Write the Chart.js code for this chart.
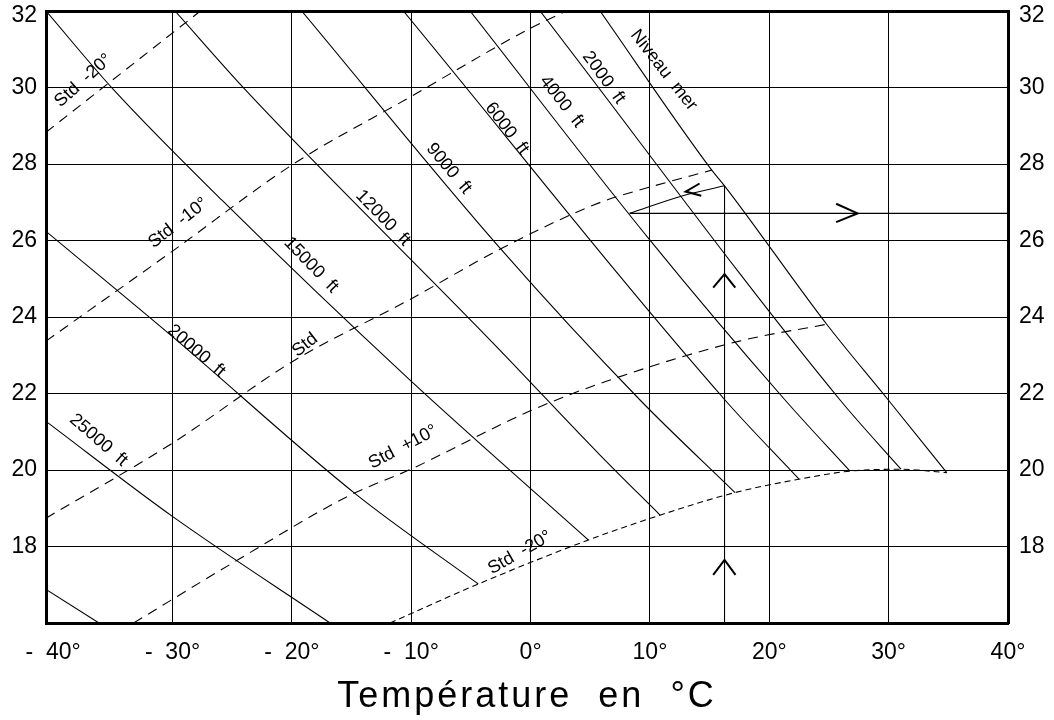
<!DOCTYPE html>
<html><head><meta charset="utf-8">
<script src="https://cdn.jsdelivr.net/npm/chart.js@4/dist/chart.umd.min.js"></script>
<style>html,body{margin:0;padding:0;background:#fff}#wrap{width:1054px;height:720px}</style>
</head><body><div id="wrap"><canvas id="c" width="1054" height="720"></canvas></div>
<script>
// ---- axes ----
const xTicks = [-40, -30, -20, -10, 0, 10, 20, 30, 40];
const xTickLabels = ['-  40°', '-  30°', '-  20°', '-  10°', '0°', '10°', '20°', '30°', '40°'];
const yTicks = [16, 18, 20, 22, 24, 26, 28, 30, 32];
const yTickLabels = ['', '18', '20', '22', '24', '26', '28', '30', ''];
const yTopLabel = '32';
const axisTitle = 'Température  en  °C';

// ---- pressure-altitude lines (°C, y-value) ----
const alt30000 = [[-40.6, 16.88], [-36.16, 16]];
const alt25000 = [[-40.6, 21.27], [-29.98, 18.78], [-16.8, 16]];
const alt20000 = [[-40.6, 26.24], [-29.98, 23.48], [-14.57, 19.35], [-4.38, 17.02]];
const alt15000 = [[-40.6, 32], [-34.96, 29.95], [-25.88, 27.06], [-10.1, 22.35], [4.84, 18.17]];
const alt12000 = [[-29.79, 32], [-23.93, 29.95], [-2.84, 23.22], [5.82, 20.39], [10.85, 18.82]];
const alt9000 = [[-19.18, 32], [-2.56, 25.8], [9.17, 21.83], [17.13, 19.41]];
const alt6000 = [[-10.66, 32], [16.29, 21.83], [22.49, 19.76]];
const alt4000 = [[-5.07, 32], [9.95, 26.03], [21.32, 21.83], [26.76, 19.97]];
const alt2000 = [[0.79, 32], [25.93, 21.83], [31.04, 20.02]];
const altSea = [[5.82, 32], [15.18, 27.84], [16.25, 27.43], [24.81, 23.81], [29.97, 21.83], [34.87, 19.93]];

// ---- standard-temperature curves ----
const stdM20 = [[-40.6, 28.83], [-27.66, 32]];
const stdM10 = [[-40.6, 23.37], [-29.97, 25.73], [-19.87, 28.0], [-10.1, 29.75], [-0.07, 31.54], [3.0, 32]];
const stdStd = [[-40.6, 18.74], [-29.97, 20.71], [-19.87, 22.85], [-10.1, 24.46], [-2.58, 25.77], [5.79, 26.99], [9.92, 27.39], [15.18, 27.84]];
const stdP10 = [[-33.26, 16], [-24.75, 17.61], [-15.13, 19.34], [-10.11, 20.01], [-0.07, 21.54], [6.35, 22.32], [17.5, 23.37], [24.81, 23.81]];
const stdP20 = [[-11.78, 16], [-4.38, 17.02], [4.84, 18.17], [10.85, 18.82], [17.13, 19.41], [22.49, 19.76], [26.76, 19.97], [31.04, 20.02], [34.87, 19.93]];

// ---- example path with arrows ----
const pathUp = [[16.25, 16], [16.25, 27.43]];
const pathCurve = [[8.3, 26.71], [12.76, 27.17], [16.25, 27.43]];
const pathRight = [[8.3, 26.71], [40, 26.71]];
const arrowRight = [[25.6, 26.96], [27.4, 26.71], [25.6, 26.48]];
const arrowLeft = [[14.16, 27.49], [12.99, 27.28], [14.3, 27.17]];
const arrowUp1 = [[15.3, 24.77], [16.25, 25.12], [17.15, 24.77]];
const arrowUp2 = [[15.3, 17.26], [16.25, 17.65], [17.17, 17.26]];

// ---- curve labels: text, x, y, angle(deg) ----
const curveLabels = [
  ['Std  -20°', -37.47, 30.18, -42],
  ['Std  -10°', -29.52, 26.46, -38],
  ['Std', -18.9, 23.27, -38],
  ['Std  +10°', -10.69, 20.6, -28],
  ['Std  -20°', -0.9, 17.84, -30],
  ['25000  ft', -36.2, 20.78, 41],
  ['20000  ft', -28.0, 23.11, 41],
  ['15000  ft', -18.39, 25.36, 46],
  ['12000  ft', -12.37, 26.59, 46],
  ['9000  ft', -6.85, 27.88, 50],
  ['6000  ft', -1.99, 28.93, 53],
  ['4000  ft', 2.61, 29.63, 52],
  ['2000  ft', 6.13, 30.26, 54],
  ['Niveau  mer', 11.15, 30.45, 52]
];

const FONT = '"Liberation Sans", Arial, sans-serif';
const pts = a => a.map(([x, y]) => ({x, y}));
function ds(arr, dash, smooth) {
  return {data: pts(arr), borderColor: '#000', borderWidth: 1.1, pointRadius: 0, showLine: true,
    fill: false, borderDash: dash || [], tension: 0, cubicInterpolationMode: smooth ? 'monotone' : 'default'};
}
const datasets = [
  ds(alt30000), ds(alt25000, null, true), ds(alt20000, null, true), ds(alt15000, null, true),
  ds(alt12000, null, true), ds(alt9000, null, true), ds(alt6000, null, true), ds(alt4000, null, true),
  ds(alt2000, null, true), ds(altSea, null, true),
  ds(stdM20, [10, 7]), ds(stdM10, [10, 7], true), ds(stdStd, [10, 7], true), ds(stdP10, [10, 7], true),
  ds(stdP20, [6, 4], true),
  ds(pathUp), ds(pathCurve, null, true), ds(pathRight),
  Object.assign(ds(arrowRight), {borderWidth: 2}), Object.assign(ds(arrowLeft), {borderWidth: 2}),
  Object.assign(ds(arrowUp1), {borderWidth: 2}), Object.assign(ds(arrowUp2), {borderWidth: 2})
];

const labelPlugin = {
  id: 'curveLabels',
  afterDatasetsDraw(chart) {
    const {ctx, scales: {x, y}} = chart;
    ctx.save();
    ctx.fillStyle = '#000';
    ctx.font = '18px ' + FONT;
    ctx.textAlign = 'center';
    ctx.textBaseline = 'middle';
    curveLabels.forEach(([t, lx, ly, a]) => {
      ctx.save();
      ctx.translate(x.getPixelForValue(lx), y.getPixelForValue(ly));
      ctx.rotate(a * Math.PI / 180);
      ctx.fillText(t, 0, 0);
      ctx.restore();
    });
    ctx.restore();
  },
  afterDraw(chart) {
    const {ctx, chartArea, scales: {y}} = chart;
    ctx.save();
    ctx.fillStyle = '#000';
    // top value label, nudged down to stay inside the canvas as in the source
    ctx.font = '23px ' + FONT;
    ctx.textBaseline = 'middle';
    const ty = y.getPixelForValue(32) + 5;
    ctx.textAlign = 'right';
    ctx.fillText(yTopLabel, chartArea.left - 9, ty);
    ctx.textAlign = 'left';
    ctx.fillText(yTopLabel, chartArea.right + 11, ty);
    // axis title
    ctx.font = '36px ' + FONT;
    ctx.letterSpacing = '3px';
    ctx.textAlign = 'center';
    ctx.fillText(axisTitle, (chartArea.left + chartArea.right) / 2, 697);
    ctx.restore();
  }
};

const gridColor = lim => ctx => (ctx.tick && (ctx.tick.value <= lim[0] || ctx.tick.value >= lim[1])) ? 'rgba(0,0,0,0)' : '#000';
const noPadV = s => { s.paddingTop = 0; s.paddingBottom = 0; };
const noPadH = s => { s.paddingLeft = 0; s.paddingRight = 0; };

new Chart(document.getElementById('c'), {
  type: 'scatter',
  data: {datasets},
  plugins: [labelPlugin],
  options: {
    responsive: false, animation: false, devicePixelRatio: 1,
    layout: {padding: 0},
    plugins: {legend: {display: false}, tooltip: {enabled: false}, title: {display: false}},
    scales: {
      x: {
        type: 'linear', position: 'bottom', min: -40.6, max: 40,
        afterBuildTicks: s => { s.ticks = xTicks.map(v => ({value: v})); },
        ticks: {callback: (v, i) => xTickLabels[i], font: {size: 23, family: FONT}, color: '#000',
          padding: 16, maxRotation: 0, autoSkip: false},
        grid: {color: gridColor([-40, 40]), lineWidth: 1, drawTicks: false},
        border: {color: '#000', width: 3},
        afterFit: s => { s.height = 97; noPadH(s); }
      },
      x2: {
        type: 'linear', position: 'top', min: -40.6, max: 40,
        ticks: {display: false}, grid: {display: false, drawTicks: false},
        border: {color: '#000', width: 3},
        afterFit: s => { s.height = 11; noPadH(s); }
      },
      y: {
        type: 'linear', position: 'left', min: 16, max: 32,
        afterBuildTicks: s => { s.ticks = yTicks.map(v => ({value: v})); },
        ticks: {callback: (v, i) => yTickLabels[i], font: {size: 23, family: FONT}, color: '#000', padding: 9, autoSkip: false},
        grid: {color: gridColor([16, 32]), lineWidth: 1, drawTicks: false},
        border: {color: '#000', width: 3},
        afterFit: s => { s.width = 46; noPadV(s); }
      },
      y2: {
        type: 'linear', position: 'right', min: 16, max: 32,
        afterBuildTicks: s => { s.ticks = yTicks.map(v => ({value: v})); },
        ticks: {callback: (v, i) => yTickLabels[i], font: {size: 23, family: FONT}, color: '#000', padding: 11, autoSkip: false},
        grid: {display: false, drawTicks: false},
        border: {color: '#000', width: 3},
        afterFit: s => { s.width = 46; noPadV(s); }
      }
    }
  }
});
</script></body></html>
